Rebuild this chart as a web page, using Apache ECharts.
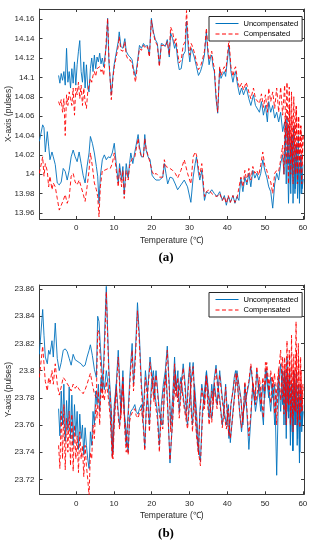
<!DOCTYPE html>
<html><head><meta charset="utf-8">
<script src="https://cdn.jsdelivr.net/npm/echarts@6/dist/echarts.min.js"></script>
<style>html,body{margin:0;padding:0;background:#fff}#c{width:318px;height:550px}</style>
</head><body><div id="c"></div>
<script>
// Temperature samples, branch starting near -4.7 °C (151 points)
const tempUp = [
-4.65,-4.30,-3.95,-3.60,-3.25,-2.89,-2.54,-2.19,-1.84,-1.49,
-1.14,-0.79,-0.44,-0.09,0.26,0.61,0.96,1.32,1.67,2.02,
2.37,2.72,3.07,3.42,3.77,4.12,4.47,4.82,5.18,5.53,
5.88,6.23,6.58,6.93,7.28,7.63,7.98,8.33,8.68,9.30,
9.74,10.09,10.61,11.14,11.40,11.84,12.37,12.89,13.25,13.77,
14.30,14.82,15.18,15.70,16.23,16.75,17.28,17.81,18.33,18.86,
19.39,19.91,20.44,20.96,21.49,22.02,22.54,23.07,23.60,24.12,
24.65,25.00,25.53,26.05,26.40,26.93,27.28,27.81,28.33,28.86,
29.21,29.74,30.09,30.44,30.79,31.32,31.84,32.37,32.89,33.42,
33.95,34.47,34.82,35.18,35.53,35.88,36.23,36.58,37.02,37.46,
37.98,38.33,38.68,39.21,39.56,40.09,40.44,40.96,41.49,41.84,
42.19,42.72,43.25,43.77,44.30,45.00,45.70,46.23,46.93,47.46,
47.98,48.51,49.04,49.56,50.09,50.61,50.96,51.49,52.02,52.54,
53.07,53.60,54.12,54.65,55.18,55.5,55.8,56.1,56.4,56.7,
57.0,57.3,57.6,57.9,58.2,58.5,58.8,59.1,59.4,59.7,
60.0];
// Temperature samples, branch starting near -9.7 °C (140 points)
const tempLow = [
-9.74,-8.86,-8.51,-8.16,-7.63,-7.28,-6.93,-6.40,-6.05,-5.53,
-5.00,-4.47,-3.95,-3.42,-2.89,-2.37,-1.84,-1.32,-0.79,-0.26,
0.26,0.79,1.32,1.84,2.37,2.89,3.42,3.77,4.30,4.82,
5.35,5.70,6.05,6.40,6.93,7.46,7.98,8.51,9.04,9.56,
10.09,10.61,11.14,11.49,12.02,12.37,12.72,13.25,13.77,14.12,
14.47,15.00,15.53,15.88,16.40,16.75,17.28,17.81,18.16,18.51,
19.04,19.56,20.09,20.61,21.14,22.03,22.92,23.34,23.76,24.22,
24.83,25.53,26.23,26.85,27.73,28.61,29.48,30.36,30.97,31.50,
31.85,32.38,32.73,33.25,33.96,34.49,35.19,35.89,36.59,37.29,
37.99,38.69,39.22,39.75,40.27,40.80,41.50,42.02,42.55,43.07,
43.60,44.13,44.65,45.18,45.71,46.23,46.76,47.29,47.81,48.34,
48.86,49.39,49.92,50.44,50.97,51.50,52.02,52.55,53.07,53.60,
54.13,54.65,55.0,55.3,55.6,55.9,56.2,56.5,56.8,57.1,
57.4,57.7,58.0,58.3,58.6,58.9,59.2,59.5,59.8,60.1];

// (a) X-axis, uncompensated / compensated
const aUncUp = [
14.102,14.094,14.104,14.097,14.106,14.092,14.130,14.095,14.106,14.089,
14.109,14.094,14.116,14.092,14.113,14.127,14.138,14.106,14.095,14.116,
14.089,14.113,14.089,14.085,14.109,14.120,14.106,14.123,14.109,14.121,
14.116,14.125,14.114,14.120,14.111,14.113,14.133,14.161,14.115,14.082,
14.102,14.114,14.116,14.137,14.147,14.132,14.130,14.140,14.127,14.123,
14.121,14.118,14.109,14.101,14.116,14.133,14.130,14.135,14.132,14.133,
14.123,14.161,14.147,14.139,14.135,14.113,14.135,14.134,14.132,14.139,
14.121,14.146,14.140,14.130,14.135,14.116,14.108,14.109,14.123,14.127,
14.158,14.127,14.116,14.130,14.127,14.120,14.111,14.102,14.106,14.113,
14.123,14.147,14.127,14.113,14.120,14.123,14.111,14.106,14.078,14.063,
14.109,14.099,14.102,14.106,14.101,14.120,14.133,14.106,14.095,14.102,
14.106,14.092,14.082,14.089,14.082,14.090,14.078,14.071,14.082,14.071,
14.071,14.064,14.075,14.061,14.071,14.054,14.075,14.064,14.071,14.058,
14.064,14.054,14.064,14.044,14.054,14.03,14.06,14.01,14.05,13.99,
14.04,14.0,14.05,13.98,14.03,13.99,14.04,13.97,14.02,13.98,
14.01];
const aCompUp = [
14.075,14.071,14.077,14.064,14.078,14.040,14.082,14.071,14.085,14.078,
14.071,14.089,14.061,14.089,14.082,14.095,14.078,14.092,14.071,14.089,
14.075,14.068,14.085,14.092,14.099,14.095,14.102,14.106,14.101,14.109,
14.108,14.111,14.106,14.109,14.102,14.116,14.140,14.161,14.120,14.077,
14.099,14.111,14.113,14.132,14.142,14.128,14.127,14.137,14.123,14.118,
14.118,14.114,14.106,14.095,14.113,14.130,14.128,14.133,14.130,14.132,
14.121,14.159,14.145,14.137,14.133,14.111,14.133,14.133,14.132,14.137,
14.123,14.152,14.147,14.135,14.140,14.123,14.115,14.118,14.133,14.137,
14.169,14.133,14.123,14.135,14.132,14.125,14.116,14.108,14.111,14.118,
14.127,14.151,14.132,14.118,14.123,14.127,14.116,14.109,14.082,14.064,
14.111,14.102,14.106,14.111,14.106,14.125,14.139,14.111,14.101,14.108,
14.111,14.097,14.089,14.094,14.087,14.095,14.085,14.078,14.089,14.078,
14.080,14.073,14.083,14.069,14.082,14.064,14.089,14.075,14.085,14.068,
14.089,14.064,14.090,14.061,14.092,14.04,14.095,14.03,14.09,14.02,
14.085,14.01,14.08,14.02,14.07,14.0,14.06,14.01,14.05,13.99,
14.04];
const aUncLow = [
14.034,14.051,14.048,14.023,14.044,14.029,14.015,14.023,14.018,14.010,
13.991,13.989,13.992,14.006,14.003,13.994,14.004,14.018,14.025,14.018,
14.013,14.023,14.011,13.999,13.991,14.008,14.022,14.039,14.032,14.022,
14.008,13.998,13.970,13.998,14.015,14.020,14.015,14.018,14.017,14.022,
14.032,14.011,13.991,14.011,13.994,14.008,13.979,14.011,13.996,14.011,
14.022,14.011,14.023,14.022,14.041,14.029,14.018,14.018,14.041,14.025,
14.018,14.015,13.999,13.996,13.994,13.994,13.997,14.011,14.001,13.990,
13.997,13.996,13.990,13.984,13.989,13.994,13.987,13.971,13.997,14.011,
14.018,14.001,13.994,14.004,13.973,13.982,13.980,13.984,13.980,13.977,
13.982,13.973,13.978,13.968,13.977,13.971,13.978,13.970,13.977,13.973,
13.996,13.982,13.997,13.989,14.001,13.987,14.004,13.996,14.001,13.994,
14.001,14.015,14.004,13.997,13.987,13.982,13.965,13.990,14.001,13.994,
14.011,14.020,14.000,14.04,13.99,14.03,13.97,14.02,13.98,14.04,
13.97,14.02,13.985,14.03,13.975,14.01,13.98,14.02,13.985,13.995];
const aCompLow = [
14.001,14.018,13.998,14.011,14.003,13.987,13.998,13.984,13.991,13.987,
13.975,13.963,13.968,13.973,13.979,13.970,13.976,13.998,14.001,13.992,
13.989,13.994,13.987,13.980,13.972,13.987,14.004,14.022,14.008,13.991,
13.984,13.977,13.956,13.987,14.004,14.004,14.003,14.006,14.006,14.011,
14.022,14.004,13.987,14.006,13.987,14.004,13.975,14.004,13.994,14.008,
14.013,14.017,14.018,14.018,14.037,14.025,14.018,14.018,14.037,14.027,
14.019,14.012,14.003,13.999,14.001,13.997,13.997,14.015,14.008,14.006,
14.006,14.004,14.001,13.996,14.004,14.015,14.001,13.990,14.018,14.023,
14.020,14.006,13.999,14.011,13.977,13.982,13.984,13.980,13.978,13.977,
13.980,13.973,13.977,13.970,13.978,13.971,13.978,13.971,13.975,13.975,
13.997,13.987,14.004,13.992,14.006,13.994,14.008,14.001,14.004,13.999,
14.010,14.023,14.009,14.004,13.996,13.992,13.980,14.001,14.004,14.003,
14.015,14.030,14.000,14.060,14.010,14.050,13.990,14.070,14.000,14.060,
13.990,14.050,14.000,14.070,13.990,14.060,14.000,14.050,14.010,14.040];

// (b) Y-axis, uncompensated / compensated
const bUncUp = [
23.772,23.752,23.785,23.760,23.790,23.748,23.778,23.756,23.788,23.750,
23.782,23.745,23.775,23.752,23.770,23.742,23.768,23.750,23.760,23.738,
23.758,23.745,23.735,23.728,23.755,23.745,23.770,23.760,23.785,23.775,
23.790,23.770,23.795,23.785,23.805,23.835,23.862,23.830,23.800,23.772,
23.740,23.765,23.790,23.815,23.800,23.770,23.795,23.760,23.745,23.770,
23.800,23.820,23.790,23.815,23.850,23.825,23.790,23.770,23.800,23.785,
23.760,23.790,23.800,23.780,23.770,23.745,23.775,23.790,23.800,23.818,
23.790,23.760,23.780,23.810,23.785,23.800,23.770,23.790,23.805,23.790,
23.770,23.795,23.806,23.775,23.760,23.790,23.770,23.745,23.733,23.770,
23.785,23.799,23.780,23.765,23.775,23.790,23.780,23.795,23.804,23.790,
23.780,23.770,23.760,23.775,23.790,23.765,23.750,23.775,23.785,23.795,
23.800,23.790,23.770,23.755,23.770,23.780,23.790,23.803,23.785,23.770,
23.780,23.790,23.775,23.760,23.801,23.790,23.780,23.795,23.780,23.790,
23.723,23.790,23.805,23.775,23.800,23.760,23.810,23.770,23.795,23.745,
23.790,23.741,23.800,23.760,23.790,23.745,23.780,23.732,23.790,23.755,
23.775];
const bCompUp = [
23.745,23.728,23.770,23.735,23.775,23.727,23.765,23.740,23.770,23.730,
23.768,23.726,23.760,23.735,23.752,23.725,23.755,23.735,23.745,23.722,
23.745,23.730,23.720,23.708,23.740,23.735,23.760,23.750,23.775,23.765,
23.785,23.760,23.790,23.780,23.800,23.825,23.858,23.825,23.795,23.768,
23.735,23.760,23.785,23.810,23.795,23.765,23.790,23.755,23.740,23.765,
23.795,23.815,23.785,23.810,23.844,23.820,23.785,23.765,23.795,23.780,
23.755,23.785,23.795,23.775,23.765,23.740,23.770,23.785,23.795,23.815,
23.785,23.755,23.775,23.805,23.780,23.795,23.765,23.785,23.802,23.785,
23.765,23.790,23.803,23.770,23.755,23.785,23.765,23.740,23.730,23.765,
23.780,23.796,23.775,23.760,23.770,23.785,23.775,23.790,23.802,23.785,
23.778,23.768,23.758,23.772,23.788,23.762,23.752,23.775,23.785,23.792,
23.798,23.788,23.770,23.758,23.772,23.782,23.792,23.805,23.788,23.775,
23.785,23.795,23.780,23.765,23.806,23.795,23.785,23.800,23.788,23.798,
23.760,23.800,23.815,23.780,23.810,23.770,23.822,23.775,23.815,23.760,
23.826,23.765,23.812,23.770,23.836,23.760,23.820,23.765,23.810,23.770,
23.790];
const bUncLow = [
23.812,23.845,23.826,23.810,23.805,23.815,23.812,23.822,23.810,23.835,
23.809,23.800,23.806,23.815,23.816,23.814,23.809,23.804,23.812,23.808,
23.809,23.806,23.805,23.803,23.804,23.810,23.815,23.819,23.811,23.801,
23.795,23.840,23.836,23.818,23.796,23.786,23.800,23.788,23.770,23.737,
23.775,23.790,23.770,23.760,23.780,23.800,23.770,23.755,23.740,23.765,
23.770,23.772,23.775,23.770,23.768,23.772,23.775,23.760,23.743,23.770,
23.790,23.810,23.795,23.780,23.800,23.770,23.760,23.785,23.800,23.775,
23.732,23.765,23.800,23.780,23.795,23.775,23.760,23.790,23.806,23.770,
23.755,23.740,23.770,23.790,23.775,23.800,23.780,23.765,23.790,23.775,
23.800,23.780,23.770,23.760,23.775,23.747,23.770,23.785,23.800,23.790,
23.780,23.760,23.790,23.770,23.742,23.765,23.790,23.775,23.800,23.785,
23.770,23.790,23.780,23.800,23.785,23.770,23.790,23.760,23.780,23.795,
23.770,23.800,23.760,23.795,23.750,23.790,23.765,23.800,23.755,23.790,
23.741,23.785,23.760,23.800,23.750,23.790,23.740,23.785,23.760,23.770];
const bCompLow = [
23.795,23.818,23.805,23.792,23.785,23.795,23.790,23.800,23.790,23.805,
23.790,23.782,23.788,23.795,23.793,23.792,23.788,23.785,23.790,23.787,
23.789,23.786,23.785,23.783,23.786,23.790,23.795,23.798,23.790,23.783,
23.780,23.830,23.828,23.808,23.786,23.778,23.792,23.780,23.765,23.735,
23.772,23.786,23.766,23.757,23.776,23.796,23.767,23.752,23.738,23.762,
23.767,23.770,23.772,23.767,23.765,23.769,23.772,23.757,23.741,23.767,
23.787,23.806,23.792,23.777,23.797,23.767,23.757,23.782,23.797,23.772,
23.734,23.762,23.797,23.777,23.792,23.772,23.757,23.787,23.803,23.767,
23.752,23.738,23.767,23.787,23.772,23.797,23.777,23.762,23.787,23.772,
23.797,23.777,23.767,23.757,23.772,23.750,23.768,23.783,23.798,23.788,
23.778,23.762,23.792,23.772,23.752,23.768,23.792,23.778,23.803,23.788,
23.775,23.795,23.785,23.806,23.790,23.776,23.796,23.768,23.786,23.802,
23.778,23.810,23.768,23.805,23.760,23.800,23.775,23.812,23.765,23.805,
23.755,23.800,23.770,23.815,23.762,23.808,23.758,23.800,23.770,23.790];

// Tick values
const xTicks = [0,10,20,30,40,50,60];
const yTicksA = [13.96,13.98,14,14.02,14.04,14.06,14.08,14.1,14.12,14.14,14.16];
const yTicksB = [23.72,23.74,23.76,23.78,23.8,23.82,23.84,23.86];

const FONT = '"Liberation Sans", Arial, sans-serif';
const AX = '#3a3a3a';
const TXT = '#262626';
const BLUE = '#0072BD';
const RED = '#FF0000';
const fmt = v => String(Math.round(v * 1000) / 1000);
const pairs = (t, v) => t.map((x, i) => [x, v[i]]);

function xAx(gi, pos, showLabel, name) {
  return {
    type: 'value', gridIndex: gi, position: pos, min: -9.7, max: 60.3,
    axisLine: {show: true, onZero: false, lineStyle: {color: AX, width: 1}},
    axisTick: {show: true, inside: true, length: 3, customValues: xTicks, lineStyle: {color: AX}},
    axisLabel: {show: showLabel, customValues: xTicks, formatter: fmt, fontFamily: FONT, fontSize: 8, color: TXT, margin: 5},
    splitLine: {show: false},
    name: name || '', nameLocation: 'middle', nameGap: 17, nameMoveOverlap: false,
    nameTextStyle: {fontFamily: FONT, fontSize: 8.5, color: TXT}
  };
}
function yAx(gi, pos, showLabel, mn, mx, ticks, name) {
  return {
    type: 'value', gridIndex: gi, position: pos, min: mn, max: mx,
    axisLine: {show: true, onZero: false, lineStyle: {color: AX, width: 1}},
    axisTick: {show: true, inside: true, length: 3, customValues: ticks, lineStyle: {color: AX}},
    axisLabel: {show: showLabel, customValues: ticks, formatter: fmt, fontFamily: FONT, fontSize: 8, color: TXT, margin: 5},
    splitLine: {show: false},
    name: name || '', nameLocation: 'middle', nameGap: 26.5, nameRotate: 90, nameMoveOverlap: false,
    nameTextStyle: {fontFamily: FONT, fontSize: 8.5, color: TXT}
  };
}
function ser(name, xi, yi, t, v, color, dashed) {
  return {
    type: 'line', name: name, xAxisIndex: xi, yAxisIndex: yi,
    data: pairs(t, v), symbol: 'none', showSymbol: false, silent: true,
    clip: true, animation: false,
    lineStyle: {color: color, width: 0.9, type: dashed ? [4, 2.5] : 'solid'},
    itemStyle: {color: color}
  };
}
function leg(top) {
  return {
    left: 209, top: top, orient: 'vertical', data: ['Uncompensated', 'Compensated'],
    itemWidth: 23, itemHeight: 7, itemGap: 2.5, padding: [3, 4, 3, 6],
    borderColor: '#262626', borderWidth: 1, backgroundColor: '#fff',
    selectedMode: false,
    itemStyle: {opacity: 0},
    lineStyle: {width: 1},
    textStyle: {fontFamily: FONT, fontSize: 7.5, color: '#000'}
  };
}

const chart = echarts.init(document.getElementById('c'), null, {renderer: 'canvas'});
chart.setOption({
  animation: false,
  backgroundColor: '#fff',
  grid: [
    {left: 39.5, top: 9, width: 264.5, height: 210, containLabel: false, outerBoundsMode: 'none'},
    {left: 39.5, top: 285, width: 264.5, height: 209.3, containLabel: false, outerBoundsMode: 'none'}
  ],
  xAxis: [
    xAx(0, 'bottom', true, 'Temperature (℃)'),
    xAx(0, 'top', false),
    xAx(1, 'bottom', true, 'Temperature (℃)'),
    xAx(1, 'top', false)
  ],
  yAxis: [
    yAx(0, 'left', true, 13.9538, 14.1706, yTicksA, 'X-axis (pulses)'),
    yAx(0, 'right', false, 13.9538, 14.1706, yTicksA),
    yAx(1, 'left', true, 23.709, 23.863, yTicksB, 'Y-axis (pulses)'),
    yAx(1, 'right', false, 23.709, 23.863, yTicksB)
  ],
  legend: [leg(16.5), leg(292.5)],
  series: [
    ser('Uncompensated', 0, 0, tempUp, aUncUp, BLUE, false),
    ser('Uncompensated', 0, 0, tempLow, aUncLow, BLUE, false),
    ser('Compensated', 0, 0, tempUp, aCompUp, RED, true),
    ser('Compensated', 0, 0, tempLow, aCompLow, RED, true),
    ser('Uncompensated', 2, 2, tempUp, bUncUp, BLUE, false),
    ser('Uncompensated', 2, 2, tempLow, bUncLow, BLUE, false),
    ser('Compensated', 2, 2, tempUp, bCompUp, RED, true),
    ser('Compensated', 2, 2, tempLow, bCompLow, RED, true)
  ],
  graphic: [
    {type: 'text', x: 166, y: 257.5, style: {text: '(a)', font: 'bold 13px "Liberation Serif", "Times New Roman", serif', align: 'center', verticalAlign: 'middle', fill: '#000'}},
    {type: 'text', x: 166, y: 534, style: {text: '(b)', font: 'bold 13px "Liberation Serif", "Times New Roman", serif', align: 'center', verticalAlign: 'middle', fill: '#000'}}
  ]
});
</script>
</body></html>
